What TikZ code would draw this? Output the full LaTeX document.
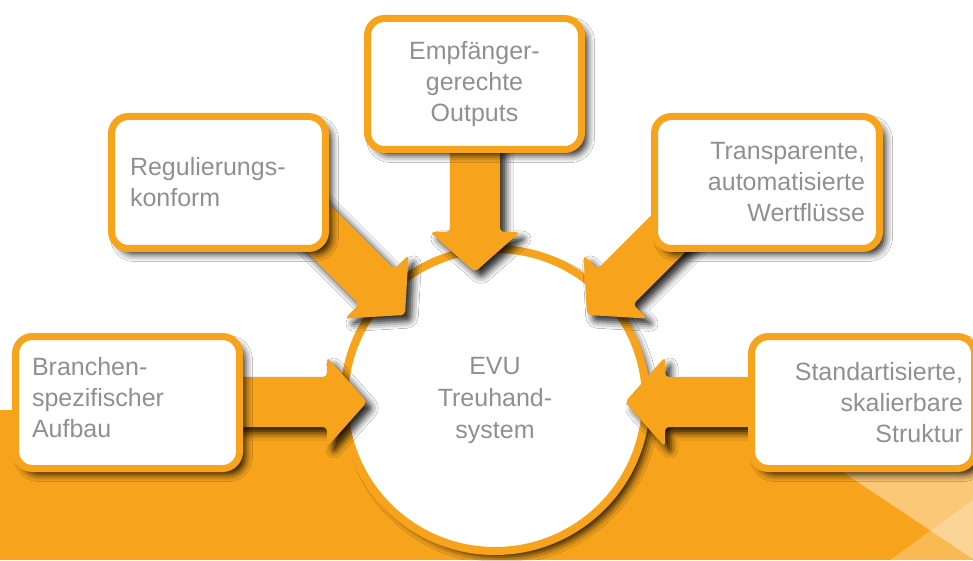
\documentclass[tikz,border=0pt]{standalone}
\usepackage{fontspec}
\setmainfont{Liberation Sans}
\usetikzlibrary{shadows.blur,calc}
\definecolor{evuorange}{HTML}{F7A41C}
\definecolor{evutext}{HTML}{909090}
\newcommand{\evuarrow}[3]{%
  \pgfmathsetmacro{\evub}{#2+180}%
  \pgfmathsetmacro{\evup}{#2+90}%
  \pgfmathsetmacro{\evuq}{#2-90}%
  \path[arrowfill] (#1)
    -- ($(#1)+(\evub:40pt)+(\evup:45pt)$)
    -- ($(#1)+(\evub:40pt)+(\evup:25pt)$)
    -- ($(#1)+(\evub:#3pt)+(\evup:25pt)$)
    -- ($(#1)+(\evub:#3pt)+(\evuq:25pt)$)
    -- ($(#1)+(\evub:40pt)+(\evuq:25pt)$)
    -- ($(#1)+(\evub:40pt)+(\evuq:45pt)$)
    -- cycle;}
\begin{document}
\begin{tikzpicture}[x=1pt,y=1pt,
  evushadow/.style={blur shadow={shadow xshift=6pt, shadow yshift=-6pt, shadow blur radius=7pt, shadow opacity=85}},
  boxshape/.style={draw=evuorange, line width=7pt, fill=white, rounded corners=17pt,
    evushadow, inner sep=0pt, font=\fontsize{25pt}{31pt}\selectfont, text=evutext},
  arrowfill/.style={fill=evuorange, rounded corners=4pt, evushadow},
  hubshape/.style={circle, draw=evuorange, line width=8pt, fill=white, evushadow,
    minimum size=302pt, inner sep=0pt, font=\fontsize{25pt}{32pt}\selectfont, text=evutext, align=center},
  lightpart/.style={fill=white}
]
\useasboundingbox (0,0) rectangle (973,560);
\clip (0,0) rectangle (973,560);
\fill[white] (0,0) rectangle (973,560);
\fill[evuorange] (0,0) rectangle (973,150);
\fill[lightpart, fill opacity=0.4] (750,150) -- (973,150) -- (973,1) -- cycle;
\fill[lightpart, fill opacity=0.25] (890,0) -- (973,60) -- (973,0) -- cycle;

\node[hubshape] (evu) at (495,160) {EVU\\Treuhand-\\system};

\coordinate (tipL) at (367,158);
\coordinate (tipR) at (625,158);
\coordinate (tipT) at (475,288);
\coordinate (tipTL) at (405,245);
\coordinate (tipTR) at (587,245);

\evuarrow{tipL}{0}{145}
\evuarrow{tipR}{180}{143}
\evuarrow{tipT}{270}{139}
\evuarrow{tipTL}{-45}{160}
\evuarrow{tipTR}{225}{160}

\node[boxshape, minimum width=224pt, minimum height=132pt, text width=191pt, align=left]
  (branchen) at (127.5,157.5) {Branchen-\\spezifischer\\Aufbau\\[-21pt]\mbox{}};
\node[boxshape, minimum width=214pt, minimum height=132pt, text width=177pt, align=left]
  (regul) at (218.5,377.5) {Regulierungs-\\konform};
\node[boxshape, minimum width=214pt, minimum height=131pt, text width=200pt, align=center]
  (empf) at (474.5,476) {Empfänger-\\gerechte\\Outputs};
\node[boxshape, minimum width=225pt, minimum height=132pt, text width=196pt, align=right]
  (transp) at (767,377.5) {Transparente,\\automatisierte\\Wertflüsse};
\node[boxshape, minimum width=223pt, minimum height=132pt, text width=200pt, align=right]
  (standard) at (863,157.5) {Standartisierte,\\skalierbare\\Struktur};
\end{tikzpicture}
\end{document}
